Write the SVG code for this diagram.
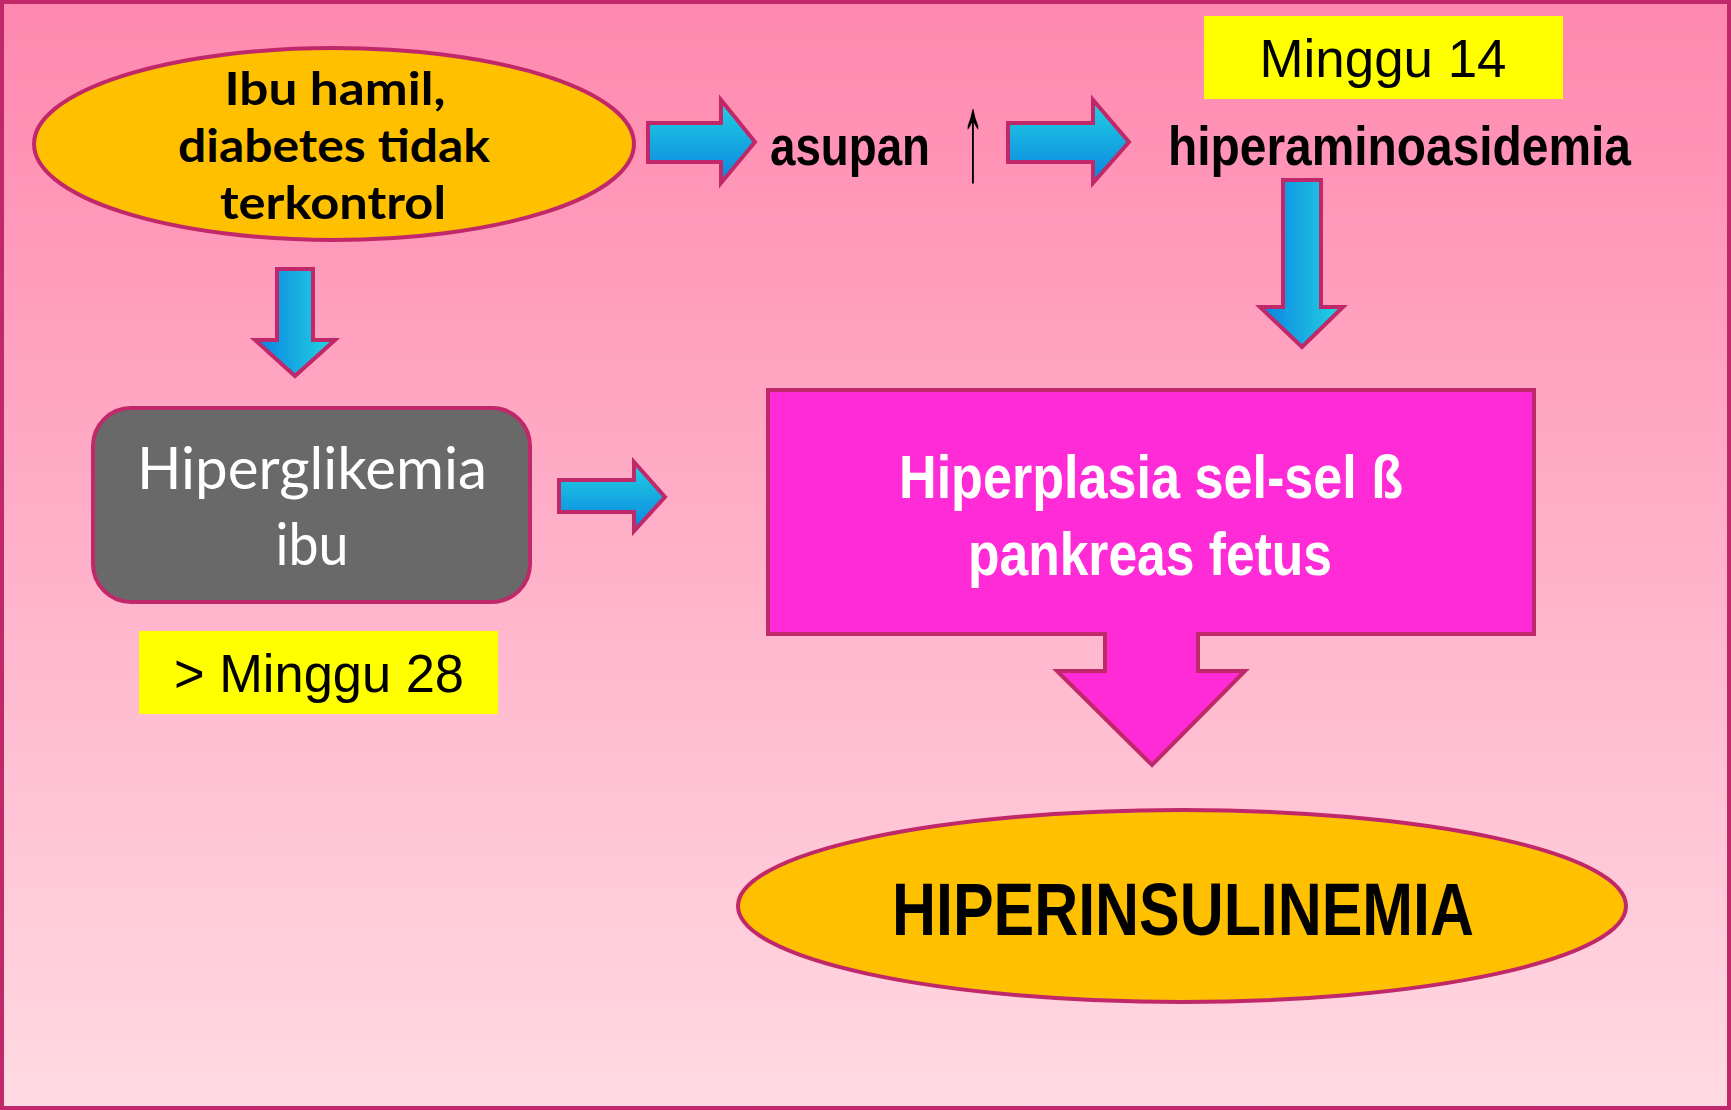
<svg xmlns="http://www.w3.org/2000/svg" width="1731" height="1110" viewBox="0 0 1731 1110">
  <defs>
    <linearGradient id="bg" x1="0" y1="0" x2="0" y2="1">
      <stop offset="0" stop-color="#FF88AF"/>
      <stop offset="1" stop-color="#FFDAE3"/>
    </linearGradient>
    <linearGradient id="gh" x1="0" y1="0" x2="0" y2="1">
      <stop offset="0" stop-color="#22D2E0"/>
      <stop offset="1" stop-color="#0A84E2"/>
    </linearGradient>
    <linearGradient id="gv" x1="0" y1="0" x2="1" y2="0">
      <stop offset="0" stop-color="#0A80E2"/>
      <stop offset="1" stop-color="#24D6E0"/>
    </linearGradient>
    <style>
      .edge { stroke: #C0286A; stroke-width: 4; stroke-linejoin: miter; }
      .ah { fill: url(#gh); }
      .av { fill: url(#gv); }
      .gill { font-family: Lato, "Open Sans", "DejaVu Sans", sans-serif; }
      .ari { font-family: "Liberation Sans", Arial, sans-serif; }
    </style>
  </defs>

  <rect x="2" y="2" width="1727" height="1106" fill="url(#bg)" stroke="#C0286A" stroke-width="4"/>

  <g id="connectors">
    <path class="edge ah" d="M648,123 H721 V100 L755,142 L721,183 V162 H648 Z"/>
    <path class="edge ah" d="M1008,123 H1093 V100 L1129,142 L1093,183 V162 H1008 Z"/>
    <path class="edge ah" d="M559,480 H634 V462 L665,497 L634,531 V512 H559 Z"/>
    <path class="edge av" d="M277,269 H313 V340 H335 L295,376 L255,340 H277 Z"/>
    <path class="edge av" d="M1283,180 H1321 V307 H1343 L1302,347 L1260,307 H1283 Z"/>
  </g>

  <g id="ibu-hamil">
    <ellipse class="edge" cx="334" cy="144" rx="300" ry="96" fill="#FFC000"/>
    <g class="gill" font-weight="bold" font-size="46" fill="#000" text-anchor="middle">
      <text x="335" y="105" textLength="221" lengthAdjust="spacingAndGlyphs">Ibu hamil,</text>
      <text x="334" y="162" textLength="312" lengthAdjust="spacingAndGlyphs">diabetes tidak</text>
      <text x="333" y="219" textLength="226" lengthAdjust="spacingAndGlyphs">terkontrol</text>
    </g>
  </g>

  <g id="asupan">
    <text class="ari" x="770" y="165" font-weight="bold" font-size="56" textLength="160" lengthAdjust="spacingAndGlyphs">asupan</text>
    <text class="ari" font-size="56" text-anchor="middle" transform="translate(973,180) scale(0.8,2.25)">↑</text>
  </g>

  <g id="minggu-14">
    <rect x="1204" y="16" width="359" height="83" fill="#FFFF00"/>
    <text class="ari" x="1383" y="77" font-size="53" text-anchor="middle" textLength="247" lengthAdjust="spacingAndGlyphs">Minggu 14</text>
  </g>

  <g id="hiperaminoasidemia">
    <text class="ari" x="1168" y="165" font-weight="bold" font-size="56" textLength="463" lengthAdjust="spacingAndGlyphs">hiperaminoasidemia</text>
  </g>

  <g id="hiperglikemia">
    <rect class="edge" x="93" y="408" width="437" height="194" rx="38" ry="38" fill="#696969"/>
    <g class="gill" font-size="58" fill="#FFFFFF" text-anchor="middle">
      <text x="312" y="489" textLength="350" lengthAdjust="spacingAndGlyphs">Hiperglikemia</text>
      <text x="312" y="565" textLength="73" lengthAdjust="spacingAndGlyphs">ibu</text>
    </g>
  </g>

  <g id="minggu-28">
    <rect x="139" y="631" width="359" height="83" fill="#FFFF00"/>
    <text class="ari" x="319" y="692" font-size="53" text-anchor="middle" textLength="290" lengthAdjust="spacingAndGlyphs">&gt; Minggu 28</text>
  </g>

  <g id="hiperplasia">
    <path class="edge" d="M768,390 H1534 V634 H1198 V671 H1245 L1152,765 L1057,671 H1105 V634 H768 Z" fill="#FF2BD6"/>
    <g class="ari" font-weight="bold" font-size="61" fill="#FFFFFF" text-anchor="middle">
      <text x="1151" y="498" textLength="504" lengthAdjust="spacingAndGlyphs">Hiperplasia sel-sel ß</text>
      <text x="1150" y="575" textLength="364" lengthAdjust="spacingAndGlyphs">pankreas fetus</text>
    </g>
  </g>

  <g id="hiperinsulinemia">
    <ellipse class="edge" cx="1182" cy="906" rx="444" ry="96" fill="#FFC000"/>
    <text class="ari" x="1183" y="935" font-weight="bold" font-size="74" text-anchor="middle" textLength="582" lengthAdjust="spacingAndGlyphs">HIPERINSULINEMIA</text>
  </g>
</svg>
